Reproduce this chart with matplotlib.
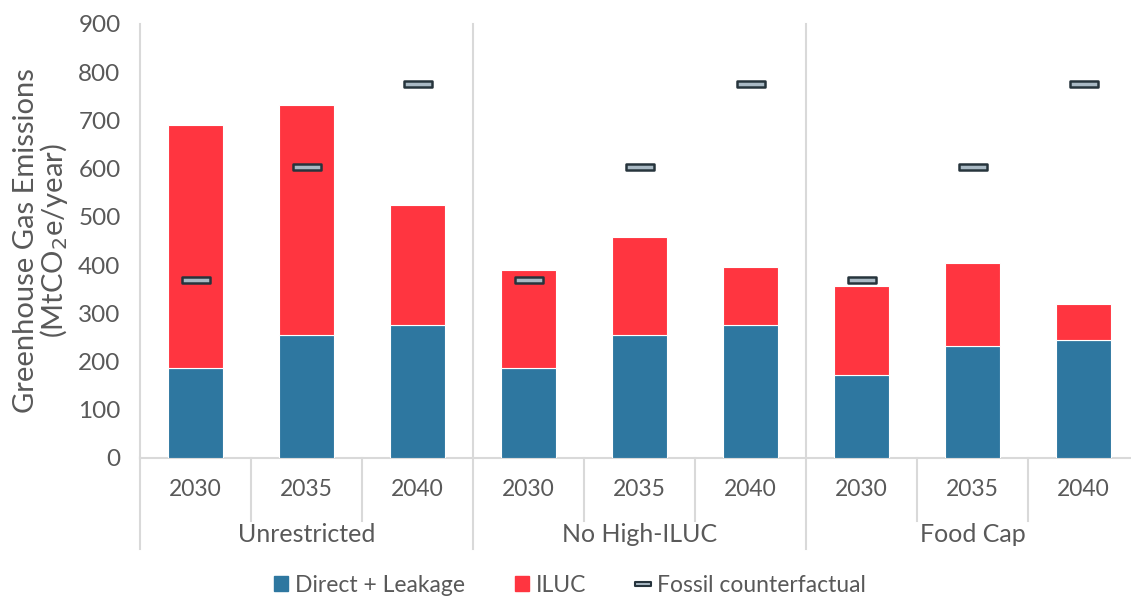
import matplotlib
matplotlib.use("Agg")
import matplotlib.pyplot as plt
import numpy as np
from matplotlib.path import Path
from matplotlib.lines import Line2D
from matplotlib.patches import Patch

plt.rcParams['font.family'] = ['Lato', 'DejaVu Sans']

groups = ["Unrestricted", "No High-ILUC", "Food Cap"]
years = ["2030", "2035", "2040"]
direct = [187, 255, 276, 187, 255, 276, 172, 233, 245]
iluc = [503, 476, 248, 202, 203, 120, 184, 172, 75]
fossil = [369, 604, 776, 369, 604, 776, 369, 604, 776]

c_blue = "#2E77A0"
c_red = "#FF3540"
c_text = "#595959"
c_line = "#D9D9D9"

fig = plt.figure(figsize=(11.31, 5.99), dpi=100)
ax = fig.add_axes([140/1131, 1-458/599, 999/1131, (458-24)/599])

x = np.arange(len(direct))
ax.bar(x, direct, width=0.49, color=c_blue, edgecolor="white", linewidth=0.8, zorder=2)
ax.bar(x, iluc, bottom=direct, width=0.49, color=c_red, edgecolor="white", linewidth=0.8, zorder=2)

rect = Path([(-1, -0.25), (1, -0.25), (1, 0.25), (-1, 0.25), (-1, -0.25)],
            [Path.MOVETO, Path.LINETO, Path.LINETO, Path.LINETO, Path.CLOSEPOLY])
ax.plot(x, fossil, linestyle="none", marker=rect, markersize=20,
        markerfacecolor="#A9B9C4", markeredgecolor="#26343C", markeredgewidth=1.8, zorder=3)

ax.set_xlim(-0.5, len(direct) - 0.5)
ax.set_ylim(0, 900)
ax.set_yticks(range(0, 901, 100))
ax.tick_params(axis="y", length=0, labelsize=17.5, labelcolor=c_text, pad=14)
ax.set_xticks([])
for s in ["top", "right", "bottom"]:
    ax.spines[s].set_visible(False)
ax.spines["left"].set_color(c_line)
ax.spines["left"].set_linewidth(1.5)
ax.axhline(0, color=c_line, lw=1.5, zorder=1, clip_on=False)

ax.set_ylabel("Greenhouse Gas Emissions\n(MtCO$_2$e/year)", fontsize=21, color=c_text, labelpad=6, linespacing=0.95)

trans = ax.get_xaxis_transform()
# group separators
for b in [2.5, 5.5]:
    ax.plot([b, b], [-0.21, 1.0], transform=trans, color=c_line, lw=1.5, clip_on=False, zorder=1)
ax.plot([-0.5, -0.5], [-0.21, 0], transform=trans, color=c_line, lw=1.5, clip_on=False)
# year separators
for b in [0.5, 1.5, 3.5, 4.5, 6.5, 7.5]:
    ax.plot([b, b], [0, -0.145], transform=trans, color=c_line, lw=1.5, clip_on=False)

for i in range(len(direct)):
    ax.text(x[i], -0.073, years[i % 3], transform=trans, ha="center", va="center",
            fontsize=16.5, color=c_text)
for g, name in enumerate(groups):
    ax.text(g*3 + 1, -0.177, name, transform=trans, ha="center", va="center",
            fontsize=18, color=c_text)

handles = [Patch(color=c_blue, label="Direct + Leakage"),
           Patch(color=c_red, label="ILUC"),
           Line2D([], [], linestyle="none", marker=rect, markersize=12,
                  markerfacecolor="#A9B9C4", markeredgecolor="#26343C", markeredgewidth=1.5,
                  label="Fossil counterfactual")]
fig.legend(handles=handles, loc="center", bbox_to_anchor=(570/1131, 1-585/599), ncol=3,
           frameon=False, fontsize=16.5, labelcolor=c_text, handlelength=0.6, handleheight=0.6,
           handletextpad=0.3, columnspacing=2.2)

fig.savefig("out.png", dpi=100)
